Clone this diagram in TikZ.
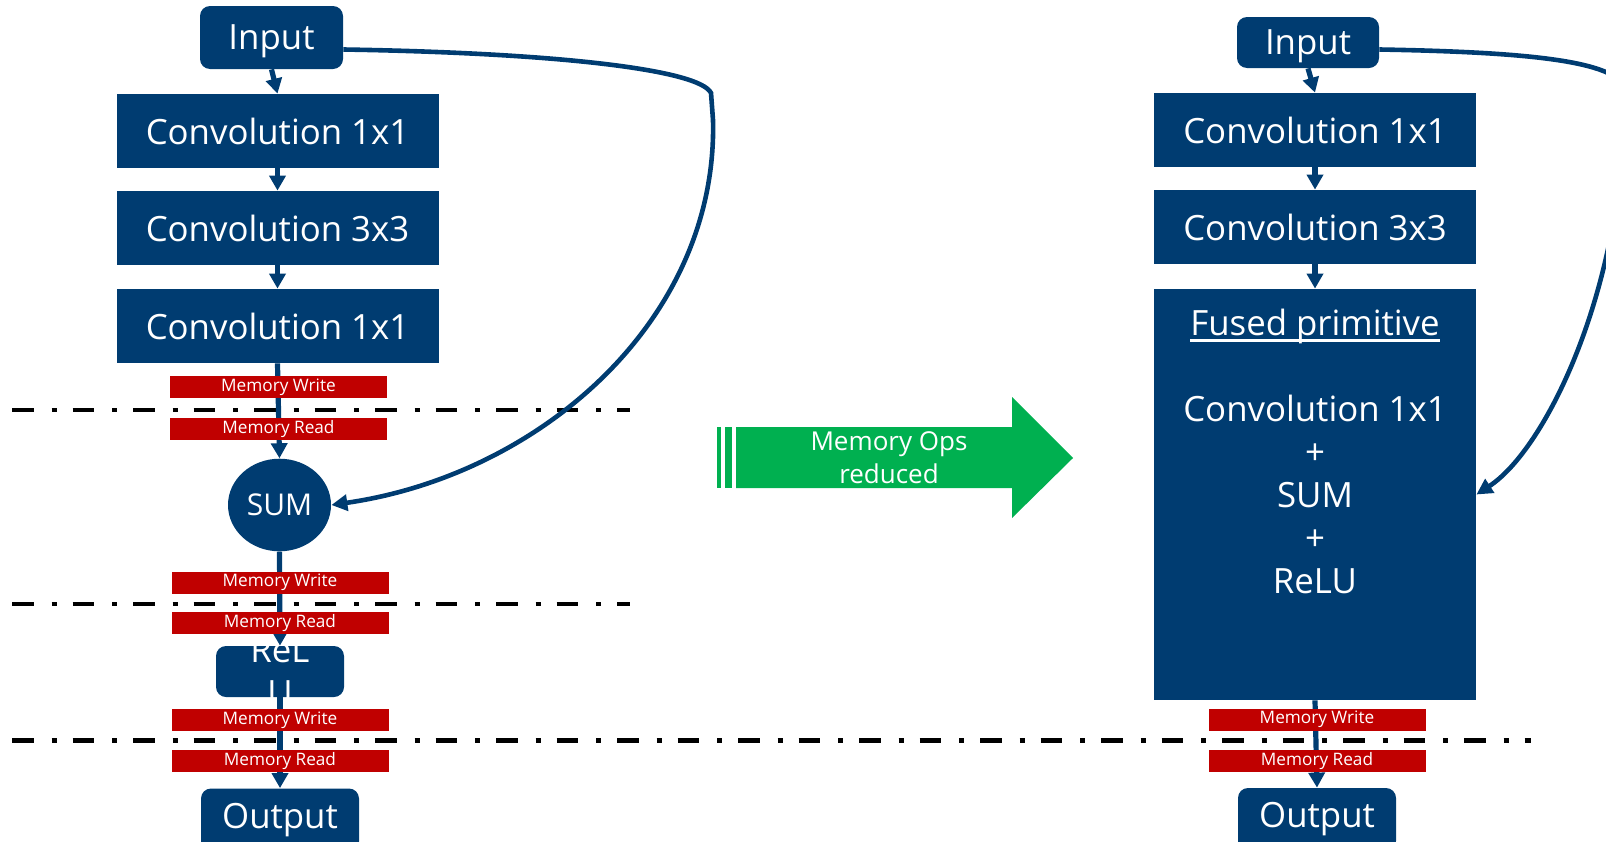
\documentclass[tikz,border=0pt]{standalone}
\usepackage{fontspec}
\setmainfont{Open Sans}
\usetikzlibrary{arrows.meta,shapes.geometric}
\definecolor{ablue}{RGB}{0,60,113}
\definecolor{mred}{RGB}{192,0,0}
\definecolor{agreen}{RGB}{0,176,80}
% underline drawn as a rule close to the baseline
\newcommand\ulineText[1]{\leavevmode\setbox0\hbox{#1}\rlap{\rule[-3.1pt]{\wd0}{1.2pt}}\box0}
\begin{document}
\begin{tikzpicture}[x=0.5pt,y=-0.5pt,
  blk/.style={fill=ablue, text=white, inner sep=0pt, align=center,
              font=\fontsize{17.4}{21.5}\selectfont},
  convbox/.style={blk, minimum width=161pt, minimum height=37pt},
  termbox/.style={blk, rounded corners=5pt, minimum height=31.5pt},
  whitetext/.style={text=white, align=center, inner sep=0pt,
              font=\fontsize{17.4}{21.5}\selectfont},
  memlabel/.style={fill=mred, text=white, inner sep=0pt, minimum width=108.5pt,
              minimum height=11pt, font=\fontsize{8.6}{10}\selectfont},
  conn/.style={draw=ablue, line width=2.6pt, -{Triangle[width=8pt,length=7.5pt]}},
  skip/.style={draw=ablue, line width=2.3pt, -{Triangle[width=8pt,length=8pt]}},
  sep/.style={draw=black, line width=2.3pt, dash pattern=on 10.75pt off 9pt on 2.5pt off 8pt},
]
\useasboundingbox (0,0) rectangle (1606,841);
\clip (0,0) rectangle (1606,841);

% memory boundaries
\draw[sep] (12,410) -- (630,410);
\draw[sep] (12,604) -- (630,604);
\draw[sep] (12,740.5) -- (1531,740.5);

% unfused block
\node[termbox, minimum width=71.5pt, text height=12.4pt, text depth=0pt] (inL) at (271.5,37.5) {Input};
\node[convbox] (c1L) at (277.5,131) {Convolution 1x1};
\node[convbox] (c2L) at (277.5,228) {Convolution 3x3};
\node[convbox] (c3L) at (277.5,326) {Convolution 1x1};
\node[blk, ellipse, minimum width=51.5pt, minimum height=46.3pt,
      font=\fontsize{15}{18}\selectfont] (sumL) at (279.5,505) {SUM};
\node[termbox, minimum width=64pt, minimum height=25.5pt] (reluL) at (280,671.5) {};
\node[whitetext] (reluTxt) at (280,672) {ReL\\U};
\node[termbox, minimum width=79pt] (outL) at (280,820) {Output};

% fused block
\node[termbox, minimum width=71pt, minimum height=25.5pt, text height=12.4pt, text depth=0pt] (inR) at (1308,42.5) {Input};
\node[convbox] (c1R) at (1315,130) {Convolution 1x1};
\node[convbox] (c2R) at (1315,227) {Convolution 3x3};
\node[blk, minimum width=161pt, minimum height=205.5pt] (fusedR) at (1315,494.5) {};
\node[whitetext] (fusedTxt) at (1315,451.5)
  {\ulineText{Fused primitive}\\[21.5pt]Convolution 1x1\\+\\SUM\\+\\ReLU};
\node[termbox, minimum width=79pt] (outR) at (1317,819.5) {Output};

% transition arrow
\fill[agreen] (736,427) -- (1012,427) -- (1012,397) -- (1073,458) -- (1012,518)
  -- (1012,488) -- (736,488) -- cycle;
\fill[agreen] (717,427) rectangle (721,488);
\fill[agreen] (725,427) rectangle (732,488);
\node[text=white, align=center, inner sep=0pt, font=\fontsize{13}{16.5}\selectfont]
  (gain) at (889,458) {Memory Ops\\reduced};

% data flow
\draw[conn] (inL.south) -- (c1L.north);
\draw[conn] (c1L.south) -- (c2L.north);
\draw[conn] (c2L.south) -- (c3L.north);
\draw[conn] (c3L.south) -- (sumL.north);
\draw[conn] (sumL.south) -- (reluL.north);
\draw[conn] (reluL.south) -- (outL.north);
\draw[skip] ([yshift=-6pt]inL.east) .. controls (560,53) and (700,70) .. (711,93)
  -- (713,120) .. controls (718,320) and (540,475) .. (sumL.east);

\draw[conn] (inR.south) -- (c1R.north);
\draw[conn] (c1R.south) -- (c2R.north);
\draw[conn] (c2R.south) -- (fusedR.north);
\draw[conn] (fusedR.south) -- (outR.north);
\draw[skip] ([yshift=-3.5pt]inR.east) .. controls (1520,52) and (1620,60) .. (1625,90)
  .. controls (1625,290) and (1545,450) .. (fusedR.east);

% memory traffic labels
\node[memlabel] (mw1) at (278.5,387) {Memory Write};
\node[memlabel] (mr1) at (278.5,429) {Memory Read};
\node[memlabel] (mw2) at (280,582.5) {Memory Write};
\node[memlabel] (mr2) at (280,623) {Memory Read};
\node[memlabel] (mw3) at (280,720) {Memory Write};
\node[memlabel] (mr3) at (280,761) {Memory Read};
\node[memlabel] (mwR) at (1317,719.5) {Memory Write};
\node[memlabel] (mrR) at (1317,761) {Memory Read};
\end{tikzpicture}
\end{document}
